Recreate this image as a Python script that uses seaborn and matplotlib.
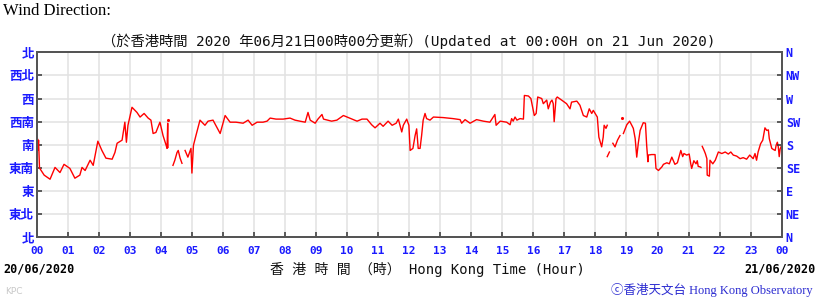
import matplotlib
matplotlib.use("Agg")
import matplotlib.pyplot as plt
import pandas as pd
import seaborn as sns

# ---- data: wind direction (degrees) against Hong Kong time (hours from 00:00 20/06/2020)
seg0_h = [0.00, 0.03, 0.04, 0.06, 0.09, 0.24, 0.43, 0.59, 0.75, 0.88, 1.07, 1.23, 1.39, 1.46, 1.56,
          1.72, 1.82, 1.97, 2.10, 2.23, 2.43, 2.52, 2.59, 2.75, 2.84, 2.89, 2.94, 3.07, 3.23, 3.33,
          3.46, 3.59, 3.68, 3.75, 3.84, 3.97, 4.07, 4.17, 4.20, 4.22, 4.23]
seg0_d = [203, 189, 170, 189, 135, 121, 113, 136, 126, 142, 134, 115, 121, 136, 130,
          150, 140, 187, 169, 154, 152, 165, 183, 189, 224, 185, 218, 253, 243, 234,
          241, 232, 228, 202, 204, 224, 198, 179, 173, 222, 175]

seg1_h = [4.39, 4.45, 4.52, 4.56, 4.62, 4.68]
seg1_d = [140, 150, 165, 169, 154, 144]

seg2_h = [4.78, 4.87, 4.97, 5.00, 5.05, 5.13, 5.26, 5.42, 5.52, 5.68,
          5.91, 6.07, 6.23, 6.42, 6.65, 6.81, 6.94, 7.10, 7.29, 7.42,
          7.52, 7.71, 7.94, 8.16, 8.32, 8.48, 8.65, 8.74, 8.81, 8.97,
          9.06, 9.19, 9.24, 9.50, 9.67, 9.88, 10.16, 10.32, 10.48, 10.64,
          10.79, 10.90, 11.06, 11.16, 11.32, 11.45, 11.58, 11.65, 11.76, 11.81,
          11.92, 11.99, 12.03, 12.12, 12.19, 12.24, 12.29, 12.35, 12.40, 12.45,
          12.51, 12.56, 12.67, 12.78, 13.09, 13.41, 13.64, 13.69, 13.80, 13.96,
          14.17, 14.39, 14.60, 14.76, 14.80, 14.93, 15.14, 15.25, 15.30, 15.35,
          15.41, 15.47, 15.57, 15.68, 15.71, 15.84, 15.92, 16.03, 16.09, 16.14,
          16.27, 16.32, 16.43, 16.48, 16.55, 16.60, 16.64, 16.67, 16.73, 16.77,
          16.91, 17.07, 17.18, 17.23, 17.40, 17.50, 17.61, 17.72, 17.80, 17.88,
          17.93, 18.06, 18.11, 18.20, 18.25, 18.28, 18.34, 18.38]
seg2_d = [169, 156, 173, 125, 179, 198, 228, 218, 226, 228,
          202, 237, 224, 224, 222, 228, 218, 224, 224, 226,
          232, 230, 230, 232, 228, 226, 224, 243, 228, 222,
          230, 239, 230, 226, 228, 237, 230, 226, 230, 230,
          219, 213, 222, 216, 226, 218, 222, 230, 205, 218,
          230, 218, 169, 173, 198, 211, 173, 173, 198, 228,
          241, 231, 228, 234, 233, 231, 229, 222, 229, 222,
          229, 226, 224, 239, 218, 226, 224, 219, 231, 226,
          234, 228, 231, 230, 276, 275, 270, 237, 241, 273,
          270, 260, 267, 250, 263, 267, 260, 225, 270, 273,
          267, 260, 250, 263, 265, 257, 237, 234, 250, 241,
          247, 234, 195, 176, 195, 218, 212, 218]

seg3_h = [18.38, 18.45]
seg3_d = [157, 166]

seg4_h = [18.56, 18.63, 18.71, 18.79]
seg4_d = [183, 176, 189, 198]

seg5_h = [18.90, 19.01, 19.10, 19.17, 19.22, 19.28, 19.33, 19.38, 19.44, 19.54,
          19.61, 19.65, 19.69, 19.70, 19.81, 19.92, 19.95, 20.03, 20.14, 20.19,
          20.30, 20.38, 20.46, 20.56, 20.64, 20.75, 20.81, 20.85, 20.94, 21.02,
          21.07, 21.10, 21.17, 21.24, 21.28, 21.31, 21.37, 21.40]
seg5_d = [202, 219, 226, 218, 212, 192, 156, 183, 208, 223,
          222, 179, 147, 160, 161, 161, 134, 130, 137, 142,
          145, 143, 156, 142, 145, 169, 157, 163, 160, 162,
          143, 134, 149, 143, 149, 138, 137, 136]

seg6_h = [21.44, 21.50, 21.54, 21.59, 21.60, 21.67, 21.69, 21.78, 21.86, 21.96,
          22.07, 22.18, 22.28, 22.36, 22.44, 22.55, 22.66, 22.76, 22.87, 22.97,
          23.08, 23.14, 23.19, 23.24, 23.32, 23.39, 23.46, 23.52, 23.57, 23.60,
          23.68, 23.73, 23.79, 23.82, 23.86, 23.89, 23.92, 23.95, 24.00]
seg6_d = [177, 169, 163, 153, 121, 119, 150, 143, 150, 166,
          163, 166, 162, 166, 160, 158, 153, 155, 152, 160,
          153, 163, 150, 166, 182, 189, 213, 208, 209, 192,
          173, 171, 169, 179, 185, 176, 157, 172, 179]

spot_h = [4.23, 18.85]
spot_d = [229, 232]

hour_labels = ["00", "01", "02", "03", "04", "05", "06", "07", "08", "09", "10", "11", "12",
               "13", "14", "15", "16", "17", "18", "19", "20", "21", "22", "23", "00"]
dir_ticks = [0, 45, 90, 135, 180, 225, 270, 315, 360]
dir_labels_zh = ["北", "東北", "東", "東南", "南", "西南", "西", "西北", "北"]
dir_labels_en = ["N", "NE", "E", "SE", "S", "SW", "W", "NW", "N"]

# ---- build table
segs_h = [seg0_h, seg1_h, seg2_h, seg3_h, seg4_h, seg5_h, seg6_h]
segs_d = [seg0_d, seg1_d, seg2_d, seg3_d, seg4_d, seg5_d, seg6_d]
frames = []
for i, (h, d) in enumerate(zip(segs_h, segs_d)):
    f = pd.DataFrame({"hour": h, "deg": d})
    f["seg"] = i
    frames.append(f)
df = pd.concat(frames, ignore_index=True)
spots = pd.DataFrame({"hour": spot_h, "deg": spot_d})

# ---- figure
W, H = 819, 299
fig = plt.figure(figsize=(W / 100, H / 100), dpi=100)
fig.patch.set_facecolor("white")
x0, x1, yt, yb = 36.7, 781.7, 52.3, 237.3
ax = fig.add_axes([x0 / W, 1 - yb / H, (x1 - x0) / W, (yb - yt) / H])

blue = "#1a1aff"
sns.lineplot(data=df, x="hour", y="deg", units="seg", estimator=None, sort=False,
             color="#ff0000", lw=1.0, ax=ax, legend=False)
sns.scatterplot(data=spots, x="hour", y="deg", color="#ff0000", s=5, linewidth=0, ax=ax, legend=False)

ax.set_xlim(0, 24)
ax.set_ylim(0, 360)
ax.set_xlabel("")
ax.set_ylabel("")
ax.set_xticks(range(25))
ax.set_xticklabels(hour_labels, fontfamily="DejaVu Sans Mono", fontweight="bold",
                   fontsize=8, color=blue)
ax.set_yticks(dir_ticks)
ax.set_yticklabels(dir_labels_zh, fontfamily="Noto Sans CJK TC", fontweight="bold",
                   fontsize=9, color=blue)
ax.grid(True, color="#e2e2e2", lw=1.1)
ax.set_axisbelow(True)
ax.tick_params(axis="both", direction="in", length=3.5, width=1.1, color="#333333")
ax.tick_params(axis="x", pad=6)
ax.tick_params(axis="y", pad=2)
for s in ax.spines.values():
    s.set_color("#555555")
    s.set_linewidth(1.4)

tw = ax.twinx()
tw.set_ylim(0, 360)
tw.set_yticks(dir_ticks)
tw.set_yticklabels(dir_labels_en, fontfamily="DejaVu Sans Mono", fontweight="bold",
                   fontsize=8.5, color=blue)
tw.tick_params(axis="y", direction="in", length=3.5, width=1.1, color="#333333", pad=3)
for s in tw.spines.values():
    s.set_color("#555555")
    s.set_linewidth(1.4)

# ---- texts
def fy(py):
    return 1 - py / H

fig.text(3 / W, fy(11), "Wind Direction:", family="Liberation Serif", fontsize=12,
         ha="left", va="center", color="black")
fig.text(409 / W, fy(41), "（於香港時間 2020 年06月21日00時00分更新）(Updated at 00:00H on 21 Jun 2020)",
         family=["DejaVu Sans Mono", "Noto Sans CJK TC"], fontsize=10.3, ha="center", va="center",
         color="#111111")
fig.text(3 / W, fy(269), "20/06/2020", family="DejaVu Sans Mono", fontweight="bold",
         fontsize=8.5, ha="left", va="center", color="black")
fig.text(816 / W, fy(269), "21/06/2020", family="DejaVu Sans Mono", fontweight="bold",
         fontsize=8.5, ha="right", va="center", color="black")
fig.text(270 / W, fy(269), "香 港 時 間 （時） Hong Kong Time (Hour)",
         family=["DejaVu Sans Mono", "Noto Sans CJK TC"], fontsize=10, ha="left", va="center",
         color="#111111")
fig.text(5 / W, fy(292), "KPC", family="DejaVu Sans", fontsize=6.5, ha="left", va="center",
         color="#c8c8c8")
fig.text(813 / W, fy(290), "ⓒ香港天文台 Hong Kong Observatory",
         family=["Liberation Serif", "Noto Sans CJK TC", "DejaVu Sans"], fontsize=9,
         ha="right", va="center", color="#2a2ad0")

fig.savefig("out.png", dpi=100, facecolor="white")
